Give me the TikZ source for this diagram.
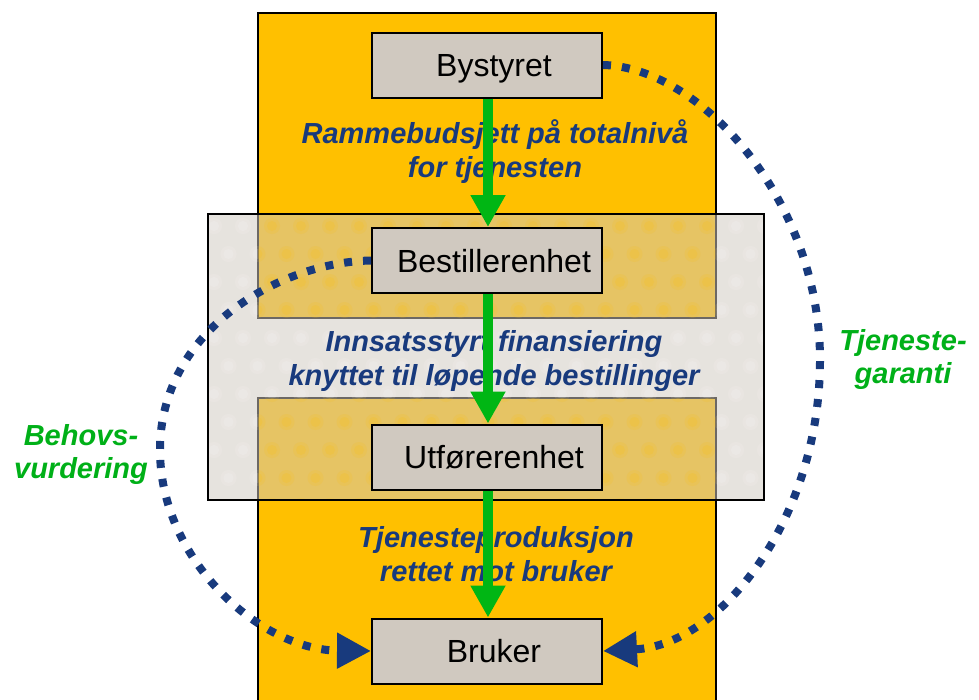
\documentclass[tikz,border=0pt]{standalone}
\usepackage{fontspec}
\setmainfont{Liberation Sans}
\usetikzlibrary{arrows.meta}

\definecolor{orangefill}{RGB}{255,192,0}
\definecolor{boxfill}{RGB}{208,201,192}
\definecolor{navy}{RGB}{24,58,125}
\definecolor{lblgreen}{RGB}{0,176,24}
\definecolor{arrgreen}{RGB}{0,182,20}

\begin{document}
\begin{tikzpicture}[x=1pt,y=-1pt,
  unit/.style={draw=black, line width=2pt, fill=boxfill,
    minimum width=230pt, minimum height=65pt, inner sep=0pt,
    text height=23pt, text depth=0pt, font=\fontsize{32}{36}\selectfont},
  flowlbl/.style={font=\fontsize{29}{34}\selectfont\bfseries\itshape,
    text=navy, align=center, inner sep=0pt},
  sidelbl/.style={font=\fontsize{29}{33}\selectfont\bfseries\itshape,
    text=lblgreen, align=center, inner sep=0pt},
  flow/.style={draw=arrgreen, line width=10pt,
    -{Triangle[length=32pt,width=33pt]}},
  loop/.style={draw=navy, line width=8pt, line cap=butt,
    dash pattern=on 8pt off 11pt,
    -{Triangle[length=34pt,width=34pt]}},
  pane/.style={draw=black, line width=1.5pt, fill=orangefill},
]
\useasboundingbox (0,0) rectangle (979,699);
\clip (0,0) rectangle (979,699);

% orange columns (upper and lower part)
\path[pane] (258,13) rectangle (716,318);
\path[pane] (258,398) rectangle (716,720);

% translucent ordering band
\fill[boxfill, fill opacity=0.52] (208,214) rectangle (764,500);

% soft spot texture of the band
\begin{scope}
  \clip (208,214) rectangle (258,500) (716,214) rectangle (764,500)
        (258,318) rectangle (716,398);
  \foreach \r in {0,...,10} {
    \foreach \c in {0,...,19} {
      \pgfmathsetmacro{\sx}{214+\c*29+mod(\r,2)*14.5}
      \pgfmathsetmacro{\sy}{226+\r*28}
      \fill[white, fill opacity=0.10] (\sx,\sy) circle (8);
      \fill[white, fill opacity=0.12] (\sx,\sy) circle (5);
    }
  }
\end{scope}
\begin{scope}
  \clip (258,214) rectangle (716,318) (258,398) rectangle (716,500);
  \foreach \r in {0,...,10} {
    \foreach \c in {0,...,19} {
      \pgfmathsetmacro{\sx}{214+\c*29+mod(\r,2)*14.5}
      \pgfmathsetmacro{\sy}{226+\r*28}
      \fill[orangefill, fill opacity=0.13] (\sx,\sy) circle (8);
      \fill[orangefill, fill opacity=0.16] (\sx,\sy) circle (5);
    }
  }
\end{scope}
\draw[black, line width=1.5pt] (208,214) rectangle (764,500);

% units
\node[unit] (by) at (487,65)    {\hspace*{14pt}Bystyret};
\node[unit] (be) at (487,260.5) {\hspace*{14pt}Bestillerenhet};
\node[unit] (ut) at (487,457)   {\hspace*{14pt}Utførerenhet};
\node[unit] (br) at (487,651)   {\hspace*{14pt}Bruker};

% flow labels
\node[flowlbl] (l1) at (495,152) {Rammebudsjett på totalnivå\\for tjenesten};
\node[flowlbl] (l2) at (494,360.5) {Innsatsstyrt finansiering\\knyttet til løpende bestillinger};
\node[flowlbl] (l3) at (496,554) {Tjenesteproduksjon\\rettet mot bruker};

% side labels
\node[sidelbl] (behov) at (81,454) {Behovs-\\vurdering};
\node[sidelbl] (garanti) at (903,359) {Tjeneste-\\garanti};

% green flow arrows
\draw[flow] ([xshift=1pt]by.south) -- ([xshift=1pt]be.north);
\draw[flow] ([xshift=1pt]be.south) -- ([xshift=1pt]ut.north);
\draw[flow] ([xshift=1pt]ut.south) -- ([xshift=1pt]br.north);

% dotted loops
\draw[loop] (be.west) .. controls (280,262) and (160,330) .. (160,450)
  .. controls (160,560) and (260,650) .. (br.west);
\draw[loop] (by.east) .. controls (700,67) and (820,200) .. (820,360)
  .. controls (820,520) and (720,645) .. (br.east);
\end{tikzpicture}
\end{document}
